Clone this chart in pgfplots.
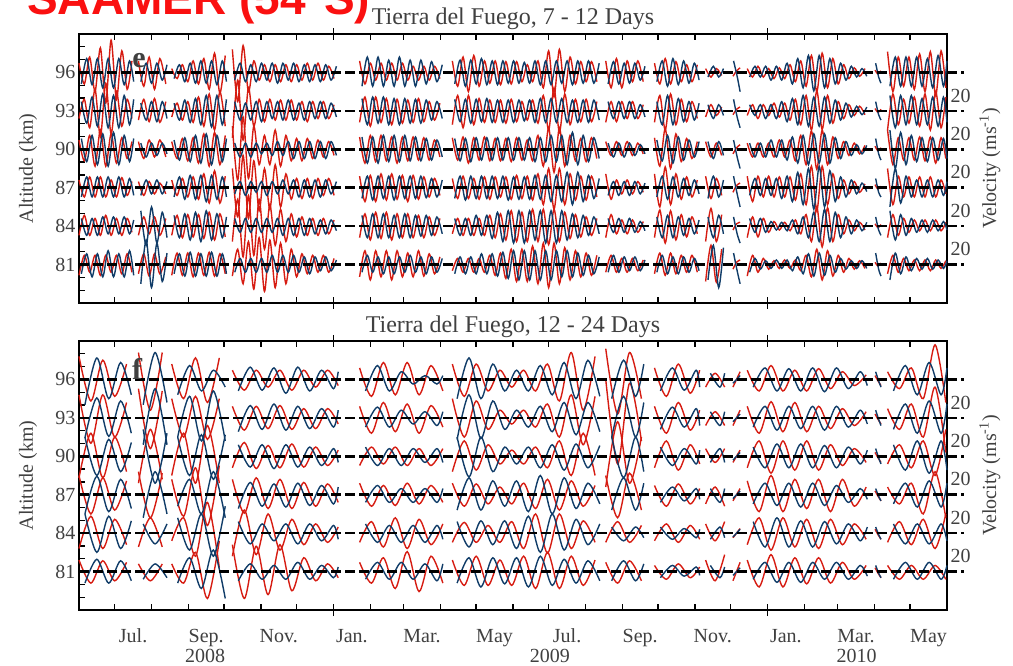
\documentclass[border=0pt]{standalone}
\usepackage{fontspec}
\setmainfont{Liberation Serif}
\setsansfont{Liberation Sans}
\usepackage{pgfplots}
\usepackage{pgfplotstable}
\pgfplotsset{compat=1.18}

\definecolor{trred}{RGB}{214,28,18}
\definecolor{trblue}{RGB}{16,60,104}
\definecolor{txt}{RGB}{64,64,64}
\definecolor{saamer}{RGB}{250,16,16}

% 7-12 day band: day since 1 Jun 2008 (red d, blue db), wind in m/s
\pgfplotstableread{
d db r96 r93 r90 r87 r84 r81 b96 b93 b90 b87 b84 b81
0 2 12 -10 12 10 -12 -14 -15 12 14 -12 10 -12
4.5 6.5 -15 15 -15 -12 14 12 18 -16 -16 14 -12 14
9 11 20 -22 18 14 -12 -10 -16 18 18 -12 10 -16
13.5 15.5 -25 28 -22 -12 10 12 18 -20 -20 14 -12 14
18 20 32 -34 25 14 -12 -14 -20 22 20 -12 12 -16
22.5 24.5 -40 36 -22 -12 14 12 18 -22 -22 14 -10 18
27 29 42 -30 20 10 -12 -10 -20 20 22 -12 12 -16
31.5 33.5 -35 25 -18 -12 10 12 18 -22 -20 14 -10 14
36 38 28 -20 15 13 -12 -12 -16 20 18 -12 12 -16
40.5 42.5 -22 15 -12 -10 10 14 15 -18 -16 12 -10 18
44.5 46 15 -10 10 8 -8 -10 -12 15 14 -10 8 -14
47 48 nan nan nan nan nan nan nan nan nan nan nan nan
50 52 15 -12 10 8 -12 -12 -12 10 8 -10 20 -25
54.5 56.5 -18 15 -12 -10 12 14 12 -12 -10 10 -25 32
59 61 20 -14 12 8 -10 -15 -14 12 8 -8 25 -30
63.5 65.5 -22 16 -10 -8 12 14 12 -14 -8 10 -22 28
68 70 18 -15 12 6 -12 -12 -10 12 8 -8 18 -22
73 74 -15 12 -10 -8 10 10 10 -10 -6 8 -15 15
76 76 nan nan nan nan nan nan nan nan nan nan nan nan
78 80 5 -8 10 10 -12 -14 -8 10 12 -12 14 -12
82.5 84.5 -8 10 -12 -10 14 15 10 -12 -14 14 -15 14
87 89 10 -12 14 12 -15 -14 -12 14 15 -15 16 -15
91.5 93.5 -12 12 -15 -12 15 15 12 -15 -16 16 -18 16
96 98 15 -15 15 14 -14 -16 -14 16 18 -15 18 -15
100.5 102.5 -15 18 -18 -15 15 15 15 -18 -18 16 -20 14
105 107 18 -20 20 18 -16 -14 -14 20 20 -18 20 -15
109.5 111.5 -22 22 -22 -20 18 16 15 -21 -20 16 -18 16
114 116 25 -25 22 22 -18 -15 -16 20 18 -15 16 -15
118.5 120.5 -27 25 -20 -20 16 14 15 -18 -16 14 -15 14
123 124 22 -20 18 15 -14 -12 -12 15 14 -12 12 -12
126 126 nan nan nan nan nan nan nan nan nan nan nan nan
129 131 30 -35 30 25 -20 -15 -10 12 8 -8 10 -10
133.5 135.5 -38 40 -40 -38 35 20 12 -12 -10 8 -8 8
138 140 35 -38 42 42 -40 -25 -12 10 8 -10 10 -10
142.5 144.5 -25 30 -38 -40 40 30 10 -12 -10 8 -8 8
147 149 15 -20 30 35 -38 -32 -12 12 8 -6 10 -10
151.5 153.5 -10 15 -20 -30 35 35 12 -14 -6 8 -8 8
156 158 10 -14 18 25 -30 -35 -10 12 8 -10 10 -10
160.5 162.5 -12 15 -20 -28 28 32 12 -10 -8 8 -8 12
165 167 10 -12 25 30 -25 -30 -14 12 10 -8 10 -10
169.5 171.5 -12 14 -22 -25 22 28 12 -12 -8 10 -12 12
174 176 10 -12 18 18 -20 -25 -10 14 10 -8 10 -10
178.5 180.5 -12 14 -15 -15 16 20 12 -12 -12 10 -12 12
183 185 10 -12 14 12 -14 -16 -12 10 10 -12 10 -10
187.5 189.5 -10 12 -15 -14 12 14 10 -12 -12 10 -12 10
192 194 12 -14 14 12 -12 -12 -12 12 10 -12 10 -12
196.5 198.5 -10 12 -12 -14 10 12 10 -10 -12 10 -10 10
201 203 12 -10 12 12 -12 -10 -12 12 10 -12 8 -8
205.5 207.5 -10 12 -10 -10 10 12 10 -10 -12 10 -10 10
210 212 8 -10 10 12 -10 -10 -10 10 10 -8 8 -8
214.5 216.5 -8 8 -8 -10 8 8 8 -8 -8 8 -6 6
226 226 nan nan nan nan nan nan nan nan nan nan nan nan
236 238 15 -15 16 15 -15 -16 -18 16 16 -14 14 -10
240.5 242.5 -15 18 -18 -18 16 18 20 -18 -18 15 -15 12
245 247 12 -20 18 16 -18 -20 -18 18 16 -16 16 -10
249.5 251.5 -10 18 -16 -18 18 18 20 -16 -18 15 -15 10
254 256 12 -15 18 18 -16 -16 -18 18 18 -14 16 -12
258.5 260.5 -10 16 -15 -16 18 18 16 -18 -16 15 -15 10
263 265 12 -18 16 18 -18 -20 -18 16 18 -16 14 -12
267.5 269.5 -10 15 -18 -15 16 18 20 -18 -16 15 -15 10
272 274 12 -16 16 16 -15 -16 -18 16 18 -14 16 -10
276.5 278.5 -10 14 -15 -18 16 15 16 -16 -15 15 -15 12
281 283 8 -15 16 16 -15 -16 -18 15 16 -14 14 -10
285.5 287.5 -10 16 -14 -15 14 18 16 -16 -15 15 -13 10
290 292 8 -14 15 14 -15 -15 -15 14 14 -13 14 -12
294.5 296.5 -10 12 -14 -12 12 14 14 -12 -14 12 -12 10
299 301 8 -12 12 12 -12 -12 -12 12 12 -12 12 -10
303.5 305.5 -8 10 -10 -10 10 10 10 -10 -10 10 -10 8
309 309 nan nan nan nan nan nan nan nan nan nan nan nan
314 316 15 -18 15 12 -10 -8 -15 15 14 -14 10 -12
318.5 320.5 -18 20 -14 -14 10 8 16 -14 -15 15 -12 10
323 325 20 -22 16 15 -12 -10 -18 15 14 -16 10 -12
327.5 329.5 -25 20 -18 -14 10 8 16 -16 -16 15 -12 10
332 334 22 -18 15 12 -12 -10 -15 15 15 -14 14 -12
336.5 338.5 -18 16 -14 -15 10 8 18 -14 -14 15 -12 14
341 343 15 -15 16 14 -12 -10 -16 16 15 -14 14 -12
345.5 347.5 -14 14 -15 -15 14 12 15 -15 -14 15 -16 14
350 352 15 -15 14 14 -15 -14 -16 14 15 -14 18 -15
354.5 356.5 -16 14 -15 -12 16 15 15 -15 -14 15 -20 16
359 361 14 -16 14 14 -18 -18 -14 14 15 -16 20 -18
363.5 365.5 -15 15 -16 -15 20 20 15 -15 -14 14 -22 18
368 370 14 -14 15 16 -20 -22 -14 14 15 -15 20 -20
372.5 374.5 -12 12 -14 -14 18 20 13 -13 -14 14 -22 18
377 379 10 -12 12 15 -20 -22 -14 14 15 -15 20 -20
381.5 383.5 -12 14 -15 -16 22 24 15 -15 -16 16 -18 18
386 388 15 -16 18 18 -20 -25 -16 16 15 -15 20 -20
390.5 392.5 -20 20 -22 -22 22 28 15 -15 -16 16 -22 18
395 397 28 -25 28 25 -24 -30 -16 16 18 -18 20 -20
399.5 401.5 -32 30 -30 -28 22 28 15 -15 -16 16 -22 18
404 406 30 -28 28 25 -20 -25 -14 16 18 -18 20 -16
408.5 410.5 -25 22 -22 -22 18 22 15 -15 -20 20 -18 18
413 415 20 -18 18 18 -16 -20 -16 14 22 -22 16 -16
417.5 419.5 -15 15 -15 -16 15 18 15 -15 -20 20 -15 15
422 424 14 -14 14 15 -14 -16 -14 14 18 -18 14 -14
426.5 428.5 -12 15 -16 -16 12 15 15 -15 -16 16 -12 12
431 433 14 -14 15 15 -12 -14 -14 14 15 -14 12 -12
435.5 437.5 -12 12 -12 -12 10 12 12 -12 -12 12 -10 10
440 440 nan nan nan nan nan nan nan nan nan nan nan nan
443 445 15 -15 10 18 -15 -10 -15 12 8 -10 10 -10
447.5 449.5 -20 12 -8 -15 15 12 14 -10 -10 8 -8 12
452 454 18 -14 10 10 -10 -10 -15 12 8 -10 10 -10
456.5 458.5 -20 12 -8 -8 8 8 12 -10 -10 8 -8 10
461 463 15 -10 10 10 -10 -10 -14 12 8 -10 10 -8
465.5 467.5 -12 12 -8 -8 8 8 12 -10 -8 8 -8 10
470 472 15 -10 8 8 -8 -8 -10 8 6 -8 6 -8
474.5 476 -12 8 -6 -6 6 6 8 -8 -6 6 -6 6
479 479 nan nan nan nan nan nan nan nan nan nan nan nan
484 486 12 -15 15 18 -15 -12 -12 12 12 -12 12 -10
488.5 490.5 -15 20 -22 -25 21 15 15 -18 -15 15 -15 12
493 495 18 -25 27 27 -22 -14 -18 20 18 -15 14 -12
497.5 499.5 -15 22 -25 -22 20 15 18 -18 -18 14 -15 10
502 504 14 -18 20 18 -18 -12 -16 16 16 -12 12 -12
506.5 508.5 -12 15 -16 -15 15 12 15 -14 -14 12 -12 10
511 513 10 -14 14 14 -14 -10 -14 12 12 -10 10 -10
515.5 517.5 -12 12 -12 -12 12 12 12 -12 -10 10 -10 8
520 521.5 10 -10 10 10 -10 -10 -10 10 10 -8 8 -8
524 524 nan nan nan nan nan nan nan nan nan nan nan nan
527 529 5 -8 10 15 -20 -22 -6 8 10 -14 12 -20
531.5 533.5 -6 8 -10 -14 23 25 8 -10 -12 15 -15 25
536 538 5 -6 8 12 -20 -23 -6 8 10 -12 14 -30
540.5 542 -4 5 -8 -10 15 20 5 -6 -8 10 -10 22
546 546 nan nan nan nan nan nan nan nan nan nan nan nan
550 550.5 -5 -5 -6 -6 -5 -6 15 15 12 15 12 15
553 553.5 2 2 2 3 3 3 -5 -8 -10 -8 -10 -8
556 556 6 5 6 6 5 6 -25 -22 -25 -25 -22 -25
559 559 nan nan nan nan nan nan nan nan nan nan nan nan
562 564 5 -6 8 15 -15 -15 -6 8 8 -10 10 -10
566.5 568.5 -6 8 -10 -18 12 12 8 -6 -10 12 -8 8
571 573 8 -10 8 15 -14 -10 -6 8 8 -10 10 -6
575.5 577.5 -6 8 -10 -12 10 8 8 -10 -10 12 -8 5
580 582 5 -6 8 15 -8 -6 -10 8 12 -10 6 -5
584.5 586.5 -8 10 -10 -12 6 5 8 -10 -10 12 -5 6
589 591 6 -8 12 14 -5 -5 -10 12 12 -14 5 -5
593.5 595.5 -8 10 -10 -12 5 6 12 -14 -14 15 -6 6
598 600 10 -12 12 14 -6 -5 -15 16 16 -18 8 -8
602.5 604.5 -12 15 -15 -16 8 6 18 -18 -18 20 -10 10
607 609 15 -18 18 18 -10 -8 -20 20 18 -22 12 -12
611.5 613.5 -18 20 -20 -22 15 12 22 -20 -20 25 -15 14
616 618 22 -25 24 28 -20 -16 -24 18 20 -28 18 -15
620.5 622.5 -25 26 -26 -30 25 20 22 -20 -18 28 -20 15
625 627 25 -24 25 28 -27 -20 -20 18 20 -25 22 -14
629.5 631.5 -20 20 -20 -22 24 18 18 -16 -18 22 -20 12
634 636 18 -16 16 18 -20 -15 -15 14 15 -18 18 -10
638.5 640.5 -15 12 -12 -14 15 12 12 -12 -12 14 -15 8
643 645 10 -10 10 10 -10 -10 -10 10 10 -12 12 -6
647.5 649.5 -8 8 -8 -8 8 8 8 -8 -8 10 -10 5
652 654 6 -6 8 8 -6 -6 -6 6 6 -8 8 -5
656.5 658.5 -5 6 -6 -6 5 5 5 -5 -6 6 -6 5
661 662.5 5 -5 5 5 -5 -5 -5 5 5 -5 5 -5
666 666 nan nan nan nan nan nan nan nan nan nan nan nan
669.5 670 3 3 4 4 3 3 12 12 14 12 12 15
672 672.5 -2 -2 -2 -2 -2 -2 -6 -5 -6 -6 -5 -6
674.5 674.5 2 2 2 2 2 2 -14 -12 -14 -12 -12 -15
677 677 nan nan nan nan nan nan nan nan nan nan nan nan
680 682 27 -25 25 25 -15 -12 -18 20 25 -25 20 -20
684.5 686.5 -25 22 -20 -22 15 12 20 -22 -25 25 -18 15
689 691 20 -18 15 15 -12 -10 -18 20 22 -20 15 -12
693.5 695.5 -18 15 -14 -12 10 8 20 -18 -20 15 -12 10
698 700 20 -16 15 14 -8 -8 -18 20 18 -12 10 -8
702.5 704.5 -22 18 -14 -12 8 6 20 -18 -16 10 -8 8
707 709 24 -20 16 14 -6 -8 -18 16 15 -12 8 -6
711.5 713.5 -25 22 -15 -12 8 6 18 -18 -16 10 -8 8
716 718 27 -25 16 14 -6 -8 -20 18 15 -12 8 -6
720.5 722.5 -30 25 -18 -12 8 6 22 -20 -14 10 -6 6
725 727 28 -22 15 10 -6 -5 -18 18 14 -10 6 -5
729 730 -20 18 -12 -8 5 5 15 -15 -12 8 -5 5
}\tabE

% 12-24 day band
\pgfplotstableread{
d db r96 r93 r90 r87 r84 r81 b96 b93 b90 b87 b84 b81
0 5 30 30 -28 25 -20 15 -33 -26 25 -25 25 -15
10 15 -28 -33 30 -25 22 -15 28 26 -25 24 -25 16
20 25 25 30 -28 22 -20 14 -25 -24 22 -22 22 -15
30 35 -22 -25 25 -20 18 -12 22 22 -20 20 -20 14
40 44 20 20 -20 18 -15 12 -20 -20 18 -18 16 -12
47 47 nan nan nan nan nan nan nan nan nan nan nan nan
50 54 35 38 -35 30 -18 10 -33 -35 35 -30 12 -10
60 64 -40 -40 35 -30 20 -12 35 38 -35 30 -14 10
70 74 35 35 -30 28 -18 10 -30 -35 30 -25 12 -8
76 76 nan nan nan nan nan nan nan nan nan nan nan nan
78 83 20 25 -25 20 -10 10 -20 -25 25 -15 20 -15
88 93 -25 -25 30 -28 20 -15 18 28 -25 20 -22 18
98 103 28 28 -35 35 -30 25 -15 -30 28 -25 25 -22
108 113 -30 -28 40 -40 40 -35 12 35 -30 30 -30 28
118 123 28 25 -35 38 -45 40 -10 -30 28 -30 35 -35
126 126 nan nan nan nan nan nan nan nan nan nan nan nan
129 134 12 15 -15 20 -30 35 -15 -18 15 -18 15 -12
139 144 -14 -16 18 -24 30 -35 16 16 -14 16 -14 10
149 154 12 15 -16 22 -28 33 -14 -15 15 -15 12 -10
159 164 -10 -14 14 -18 25 -30 15 18 -16 14 -10 8
169 174 12 16 -15 20 -22 35 -18 -16 15 -16 12 -10
179 184 -14 -15 16 -18 18 -25 16 15 -14 15 -14 12
189 194 12 12 -14 16 -15 18 -15 -14 12 -14 12 -10
199 204 -10 -14 12 -15 12 -12 12 12 -12 12 -10 8
209 214 12 12 -12 14 -12 10 -12 -12 10 -12 10 -8
218 218 -8 -8 8 -10 8 -8 10 10 -8 10 -8 6
226 226 nan nan nan nan nan nan nan nan nan nan nan nan
236 241 15 15 -12 15 -12 12 -15 -12 12 -10 12 -10
246 251 -22 -20 12 -15 15 -15 18 14 -12 12 -12 12
256 261 22 20 -10 12 -18 18 -15 -12 10 -10 10 -10
266 271 -20 -18 12 -14 20 -22 10 10 -12 8 -12 12
276 281 22 18 -12 15 -20 26 -6 -8 10 -10 10 -10
286 291 -20 -20 10 -12 18 -26 5 8 -8 8 -12 10
296 301 18 16 -12 12 -15 20 -6 -10 10 -10 10 -12
306 306 -15 -12 10 -10 12 -15 5 8 -8 8 -8 10
309 309 nan nan nan nan nan nan nan nan nan nan nan nan
314 318 20 25 -20 15 -12 15 -25 -28 25 -20 15 -15
324 328 -22 -25 20 -15 14 -18 28 30 -27 22 -18 18
334 338 20 22 -18 14 -12 20 -25 -27 25 -20 16 -20
344 348 -15 -15 15 -12 10 -18 20 22 -20 18 -15 18
354 358 12 10 -10 10 -12 15 -15 -15 12 -15 16 -16
364 368 -10 -8 8 -12 15 -18 12 10 -10 18 -20 18
374 378 12 10 -10 15 -20 20 -15 -12 12 -22 22 -20
384 388 -15 -12 12 -18 25 -22 18 15 -15 25 -25 20
394 398 20 18 -15 20 -26 25 -20 -18 15 -25 25 -18
404 408 -28 -25 20 -20 25 -22 22 20 -18 22 -22 16
414 418 35 30 -25 18 -20 20 -25 -22 16 -18 18 -15
424 428 -40 -35 30 -15 16 -18 25 20 -15 15 -15 14
434 438 30 28 -25 12 -12 15 -22 -18 14 -12 12 -12
440 440 nan nan nan nan nan nan nan nan nan nan nan nan
443 448 40 50 -40 25 -12 12 -25 -25 25 -20 8 -12
453 458 -45 -60 45 -30 15 -15 25 28 -28 22 -10 14
463 468 35 45 -35 28 -12 14 -22 -25 25 -20 8 -12
473 475 -25 -30 25 -20 10 -12 20 20 -20 15 -6 10
479 479 nan nan nan nan nan nan nan nan nan nan nan nan
484 489 15 15 -15 12 -10 8 -15 -15 12 -10 8 -8
494 499 -22 -20 20 -15 12 -10 15 14 -12 10 -8 8
504 509 20 20 -18 14 -12 10 -14 -12 10 -8 6 -6
514 519 -18 -16 15 -12 10 -8 12 12 -10 8 -6 6
522 522 12 10 -10 8 -8 6 -10 -10 8 -6 5 -5
524 524 nan nan nan nan nan nan nan nan nan nan nan nan
527 531 -10 -10 10 -12 12 15 8 8 -8 8 -8 8
535 539 8 8 -8 10 -10 -12 -10 -10 10 -10 8 -8
543 543 -10 -10 10 -15 15 22 8 8 -8 8 -6 6
546 546 nan nan nan nan nan nan nan nan nan nan nan nan
550 550 -10 -10 -8 -8 -6 -12 -5 -5 -5 -5 -5 -5
553 553 0 0 0 0 0 0 0 0 0 0 0 0
556 556 10 10 8 8 6 12 5 5 5 5 5 5
559 559 nan nan nan nan nan nan nan nan nan nan nan nan
562 567 12 15 -15 18 -15 15 -10 -12 12 -12 15 -10
572 577 -15 -20 20 -22 20 -20 15 15 -15 15 -18 12
582 587 18 21 -22 25 -22 22 -15 -16 16 -14 20 -14
592 597 -15 -18 20 -22 20 -20 14 15 -15 15 -18 12
602 607 12 20 -18 20 -18 18 -15 -14 16 -16 16 -14
612 617 -15 -18 20 -18 18 -16 15 15 -15 15 -18 12
622 627 14 15 -18 20 -20 18 -16 -16 14 -14 15 -10
632 637 -12 -14 15 -22 18 -15 15 15 -15 12 -14 12
642 647 10 12 -12 20 -15 12 -12 -12 12 -10 12 -10
652 657 -8 -10 10 -15 12 -10 10 10 -10 8 -10 8
662 663 6 8 -8 10 -8 8 -8 -8 8 -6 8 -6
666 666 nan nan nan nan nan nan nan nan nan nan nan nan
669.5 670 5 5 5 5 5 5 10 10 10 8 8 8
672 672.5 -2 -2 -2 -2 -2 -2 -2 -2 -2 -2 -2 -2
674.5 674.5 -8 -8 -8 -8 -8 -8 -10 -10 -10 -8 -8 -8
677 677 nan nan nan nan nan nan nan nan nan nan nan nan
680 685 10 12 -10 10 -12 8 -15 -15 15 -12 12 -10
690 695 -12 -15 15 -12 15 -10 18 18 -18 15 -14 12
700 705 15 18 -15 15 -15 8 -20 -20 20 -16 12 -10
710 715 -25 -25 20 -25 18 -10 22 22 -22 18 -14 12
720 725 45 40 -25 30 -20 8 -20 -20 20 -16 12 -10
729 730 -30 -45 35 -30 25 -10 15 18 -18 15 -10 8
}\tabF

\pgfplotsset{
  trace/.style={smooth, line width=1.4pt, no markers},
  base/.style={black, line width=2.5pt, dash pattern=on 10pt off 4pt},
  panel/.style={
    scale only axis, width=868pt, height=269pt,
    xmin=0, xmax=730, ymin=78, ymax=99,
    clip=false, unbounded coords=jump,
    axis line style={line width=2pt},
    tick style={black, line width=1.3pt},
    major tick length=6pt, minor tick length=6pt,
    xtick={0,30,61,92,122,153,183,214,245,273,304,334,365,395,426,457,487,518,548,579,610,638,669,699,730},
    xticklabels={},
    extra x ticks={214,579}, extra x tick labels={},
    extra x tick style={major tick length=12pt, tick align=center},
    ytick={81,84,...,96}, minor ytick={79,...,98}, ytick pos=left,
    /pgf/number format/assume math mode=true,
    tick label style={font=\fontsize{20}{24}\selectfont, text=txt},
    ylabel={Altitude (km)},
    every axis y label/.style={at={(axis description cs:-0.0588,0.5)}, rotate=90, anchor=center, font=\fontsize{20}{24}\selectfont, text=txt},
    every axis title/.style={at={(axis description cs:0.5,1)}, anchor=base, yshift=9pt, font=\fontsize{24}{28}\selectfont, text=txt},
  },
  vel/.style={
    scale only axis, width=868pt, height=269pt,
    xmin=0, xmax=730, ymin=78, ymax=99,
    axis x line*=bottom, axis y line*=right,
    axis line style={draw=none}, major tick length=0pt,
    ytick={82.2,85.2,88.2,91.2,94.2}, yticklabels={20,20,20,20,20},
    /pgf/number format/assume math mode=true,
    tick label style={font=\fontsize{20}{24}\selectfont, text=txt},
    ylabel={Velocity (ms\textsuperscript{-1})},
    every axis y label/.style={at={(axis description cs:1.0495,0.5)}, rotate=90, anchor=center, font=\fontsize{20}{24}\selectfont, text=txt},
  },
}

\begin{document}
\begin{tikzpicture}
\useasboundingbox (0,0) rectangle (1013pt,665pt);

% panel e
\begin{axis}[panel, at={(79pt,362pt)}, anchor=south west,
  title={Tierra del Fuego, 7 - 12 Days}]
  \pgfplotsinvokeforeach{96,93,90,87,84,81}{
    \addplot[trace, trred] table[x=d, y expr=#1+0.06*\thisrow{r#1}] {\tabE};
  }
  \pgfplotsinvokeforeach{96,93,90,87,84,81}{
    \addplot[trace, trblue] table[x=db, y expr=#1+0.06*\thisrow{b#1}] {\tabE};
  }
  \pgfplotsinvokeforeach{96,93,90,87,84,81}{
    \addplot[base] coordinates {(0,#1) (744,#1)};
  }
  \node[font=\bfseries\fontsize{30}{30}\selectfont, text=txt] at (axis cs:50.5,96.9) {e};
\end{axis}
\begin{axis}[vel, at={(79pt,362pt)}, anchor=south west, xtick=\empty]
  \addplot[draw=none] coordinates {(0,80)};
\end{axis}

% panel f
\begin{axis}[panel, at={(79pt,55pt)}, anchor=south west,
  title={Tierra del Fuego, 12 - 24 Days}]
  \pgfplotsinvokeforeach{96,93,90,87,84,81}{
    \addplot[trace, trred] table[x=d, y expr=#1+0.06*\thisrow{r#1}] {\tabF};
  }
  \pgfplotsinvokeforeach{96,93,90,87,84,81}{
    \addplot[trace, trblue] table[x=db, y expr=#1+0.06*\thisrow{b#1}] {\tabF};
  }
  \pgfplotsinvokeforeach{96,93,90,87,84,81}{
    \addplot[base] coordinates {(0,#1) (744,#1)};
  }
  \node[font=\bfseries\fontsize{30}{30}\selectfont, text=txt] at (axis cs:48.8,96.85) {f};
\end{axis}
\begin{axis}[vel, at={(79pt,55pt)}, anchor=south west,
  xtick={45.5,107,168,229.5,288.5,349.5,410.5,472,533,594.5,653.5,714.5},
  xticklabels={Jul.,Sep.,Nov.,Jan.,Mar.,May,Jul.,Sep.,Nov.,Jan.,Mar.,May},
  xticklabel style={anchor=base, yshift=-32pt},
  extra x ticks={106,396,654}, extra x tick labels={2008,2009,2010},
  extra x tick style={xticklabel style={yshift=-20pt}}]
  \addplot[draw=none] coordinates {(0,80)};
\end{axis}

\node[anchor=base west, inner sep=0pt, text=saamer,
  font=\sffamily\bfseries\fontsize{46}{50}\selectfont] at (27pt,650pt) {SAAMER (54°S)};
\end{tikzpicture}
\end{document}
